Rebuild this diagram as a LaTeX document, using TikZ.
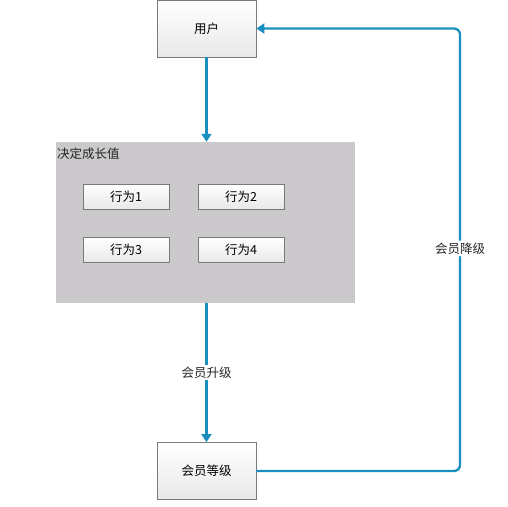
\documentclass[tikz,border=0pt]{standalone}
\usepackage{fontspec}
\setmainfont{Noto Sans CJK SC}
\usetikzlibrary{arrows.meta}
\definecolor{flow}{HTML}{1A8FBF}
\definecolor{groupfill}{HTML}{CBC9CB}
\definecolor{boxline}{HTML}{7A7A7A}
\tikzset{
  bigbox/.style={draw=boxline, line width=0.8pt, top color=white, bottom color=black!9, minimum width=99pt, minimum height=57pt, inner sep=0pt, font=\fontsize{12.5}{14}\selectfont},
  actbox/.style={draw=boxline, line width=0.8pt, top color=white, bottom color=black!9, minimum width=86pt, minimum height=25pt, inner sep=0pt, font=\fontsize{12.5}{14}\selectfont},
  flowline/.style={draw=flow, line width=2.3pt, -{Triangle[width=10pt,length=8pt]}},
  lbl/.style={fill=white, inner sep=2pt, font=\fontsize{12.5}{14}\selectfont, text=black!85}
}
\begin{document}
\begin{tikzpicture}[x=1pt,y=-1pt]
\useasboundingbox (0,0) rectangle (508,506);
\node[bigbox] (user) at (206.5,28.5) {用户};
\node[draw=none, fill=groupfill, minimum width=299pt, minimum height=161pt, inner sep=0pt] (group) at (205.5,222.5) {};
\node[anchor=north west, inner sep=0pt, font=\fontsize{12.5}{14}\selectfont, text=black!85] (title) at (57,148) {决定成长值};
\node[actbox] (a1) at (126,196.5) {行为1};
\node[actbox] (a2) at (241,196.5) {行为2};
\node[actbox] (a3) at (126,249.5) {行为3};
\node[actbox] (a4) at (241,249.5) {行为4};
\node[bigbox] (level) at (206.5,471) {会员等级};
\draw[flowline] (user.south) -- (user.south |- group.north);
\draw[flowline] (group.south -| level.north) -- node[lbl] (up) {会员升级} (level.north);
\coordinate (c1) at (460,471);
\coordinate (c2) at (460,28.5);
\draw[flowline, rounded corners=6pt] (level.east) -- (c1) -- node[lbl, pos=0.503] (down) {会员降级} (c2) -- (user.east);
\end{tikzpicture}
\end{document}
